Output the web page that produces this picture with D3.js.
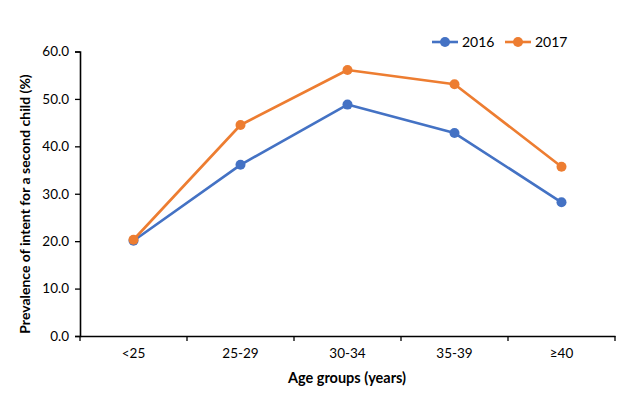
<!DOCTYPE html>
<html><head><meta charset="utf-8">
<script src="https://cdn.jsdelivr.net/npm/d3@7"></script>
<style>body{margin:0;background:#fff;} text{font-family:Lato, "Open Sans", sans-serif;}</style>
</head><body>
<svg id="c" width="630" height="403"></svg>
<script>
const categories = ["<25", "25-29", "30-34", "35-39", "≥40"];
const values2016 = [20.1, 36.1, 48.8, 42.8, 28.2];
const values2017 = [20.3, 44.5, 56.1, 53.1, 35.7];
const seriesNames = ["2016", "2017"];
const yTicks = [0, 10, 20, 30, 40, 50, 60];
const colors = ["#4472C4", "#ED7D31"];

const svg = d3.select("#c");
const m = {l: 80, r: 615, t: 51.5, b: 336};
const x = d3.scaleBand().domain(categories).range([m.l, m.r]);
const y = d3.scaleLinear().domain([0, 60]).range([m.b, m.t]);

// Y axis
const ya = svg.append("g").attr("transform", `translate(${m.l},0)`)
  .call(d3.axisLeft(y).tickValues(yTicks).tickFormat(d3.format(".1f")).tickSize(5).tickPadding(6));
ya.select(".domain").attr("stroke", "#000").attr("stroke-width", 1.6);
ya.selectAll(".tick line").attr("stroke", "#000").attr("stroke-width", 1.3);
ya.selectAll(".tick text").attr("font-size", 13.5).attr("fill", "#000");

// X axis
const xa = svg.append("g").attr("transform", `translate(0,${m.b})`)
  .call(d3.axisBottom(x).tickSize(0).tickPadding(12));
xa.select(".domain").attr("stroke", "#000").attr("stroke-width", 1.6);
xa.selectAll(".tick text").attr("font-size", 13.5).attr("fill", "#000");
const bounds = categories.map(c => x(c)).concat([m.r]);
xa.selectAll(".bt").data(bounds).enter().append("line")
  .attr("x1", d => d).attr("x2", d => d).attr("y1", 0).attr("y2", 5)
  .attr("stroke", "#000").attr("stroke-width", 1.3);

// Titles
svg.append("text").attr("x", 347).attr("y", 383).attr("text-anchor", "middle")
  .attr("font-size", 14.5).attr("font-weight", "bold").text("Age groups  (years)");
svg.append("text").attr("transform", "translate(30,204) rotate(-90)").attr("text-anchor", "middle")
  .attr("font-size", 14).attr("font-weight", "bold").text("Prevalence of intent for a second child (%)");

// Lines
const data = [values2016, values2017];
const line = d3.line().x((d, i) => x(categories[i]) + x.bandwidth() / 2).y(d => y(d));
data.forEach((vals, s) => {
  svg.append("path").datum(vals).attr("d", line).attr("fill", "none")
    .attr("stroke", colors[s]).attr("stroke-width", 2.6).attr("stroke-linejoin", "round");
  svg.selectAll(null).data(vals).enter().append("circle")
    .attr("cx", (d, i) => x(categories[i]) + x.bandwidth() / 2).attr("cy", d => y(d))
    .attr("r", 5).attr("fill", colors[s]);
});

// Legend
const lx = [432, 505];
seriesNames.forEach((n, s) => {
  const g = svg.append("g").attr("transform", `translate(${lx[s]},42)`);
  g.append("line").attr("x1", 0).attr("x2", 26).attr("stroke", colors[s]).attr("stroke-width", 2.6);
  g.append("circle").attr("cx", 13).attr("r", 5).attr("fill", colors[s]);
  g.append("text").attr("x", 30).attr("y", 5).attr("font-size", 14).text(n);
});
</script>
</body></html>
